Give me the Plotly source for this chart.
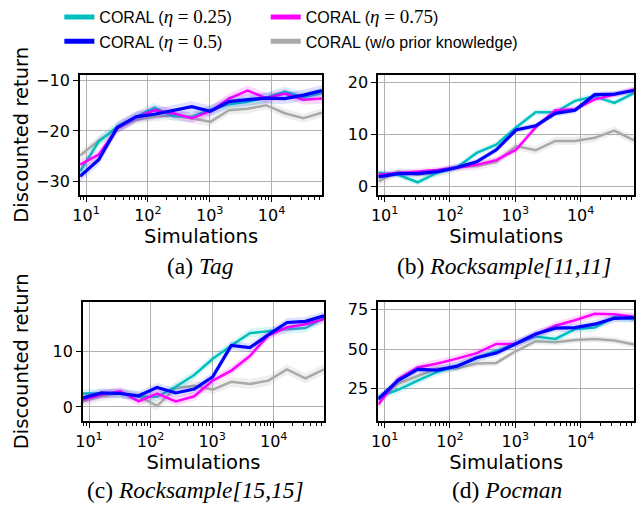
import plotly.graph_objects as go

# ---------------- data ----------------
sims = [8, 16, 32, 64, 128, 256, 512, 1024, 2048, 4096, 8192, 16384, 32768, 65536]

MATH = "font-family:Liberation Serif;font-size:19px"
series_names = [
    f"CORAL (<span style='{MATH}'><i>η</i> = 0.25</span>)",
    f"CORAL (<span style='{MATH}'><i>η</i> = 0.75</span>)",
    f"CORAL (<span style='{MATH}'><i>η</i> = 0.5</span>)",
    "CORAL (w/o prior knowledge)",
]

# Tag
tag_025 = [-28.0, -22.1, -19.2, -17.2, -15.4, -17.1, -17.2, -15.8, -14.7, -14.2, -13.4, -12.2, -13.3, -12.5]
tag_05  = [-29.0, -25.7, -19.3, -17.2, -16.7, -16.0, -15.2, -16.1, -14.2, -13.8, -13.5, -13.6, -12.9, -12.0]
tag_075 = [-26.7, -24.7, -19.5, -17.3, -15.9, -16.5, -17.5, -16.1, -13.6, -12.0, -13.5, -12.6, -13.8, -13.6]
tag_np  = [-24.9, -21.9, -19.5, -17.8, -17.2, -16.9, -17.5, -18.2, -15.9, -15.6, -14.9, -16.5, -17.5, -16.4]

# Rocksample[11,11]
rs11_025 = [2.6, 2.2, 0.75, 2.6, 3.6, 6.4, 8.0, 11.3, 14.2, 14.2, 16.4, 17.3, 16.0, 17.9]
rs11_05  = [1.8, 2.4, 2.4, 2.8, 3.6, 4.7, 7.0, 10.8, 11.6, 14.0, 14.6, 17.6, 17.7, 18.4]
rs11_075 = [2.2, 2.5, 2.8, 3.1, 3.6, 4.1, 5.0, 7.0, 11.3, 14.6, 14.8, 16.7, 17.6, 18.6]
rs11_np  = [0.9, 2.8, 2.2, 2.6, 3.6, 3.9, 4.7, 7.7, 6.9, 8.7, 8.7, 9.3, 10.7, 8.8]

# Rocksample[15,15]
rs15_025 = [2.4, 2.4, 2.4, 1.8, 1.8, 3.6, 5.7, 8.6, 11.0, 13.2, 13.6, 13.9, 14.1, 15.9]
rs15_05  = [1.6, 2.5, 2.4, 2.0, 3.5, 2.5, 3.2, 5.4, 11.0, 10.6, 12.9, 15.1, 15.3, 16.3]
rs15_075 = [1.3, 2.2, 2.8, 1.0, 2.4, 1.0, 1.9, 4.7, 6.5, 9.1, 12.8, 14.2, 14.8, 15.7]
rs15_np  = [1.0, 1.9, 2.5, 1.9, 0.2, 3.4, 3.8, 3.1, 4.5, 4.1, 4.7, 6.7, 5.1, 6.7]

# Pocman
poc_025 = [19.8, 24.4, 30.2, 35.7, 39.3, 44.6, 48.8, 53.3, 57.9, 56.4, 62.6, 63.6, 70.2, 68.8]
poc_05  = [18.6, 30.2, 37.2, 36.8, 39.3, 44.6, 47.5, 53.7, 59.5, 63.2, 63.6, 65.7, 69.4, 69.8]
poc_075 = [15.1, 31.0, 38.4, 40.9, 44.0, 47.5, 53.3, 53.3, 59.1, 64.7, 68.2, 72.3, 71.9, 70.2]
poc_np  = [18.2, 28.1, 33.1, 37.8, 37.8, 40.9, 41.3, 48.8, 55.0, 54.3, 55.8, 56.4, 55.4, 52.9]

# shaded spread (half-width) per panel, per series [0.25, 0.75, 0.5, w/o]
tag_err  = [1.0, 1.0, 1.1, 0.9]
rs11_err = [0.6, 0.6, 0.6, 0.8]
rs15_err = [0.8, 0.8, 0.8, 0.9]
poc_err  = [2.5, 2.5, 2.5, 2.0]

yticks_tag = [-30, -20, -10]
yticks_rs11 = [0, 10, 20]
yticks_rs15 = [0, 10]
yticks_poc = [25, 50, 75]
xticks = [10, 100, 1000, 10000]
xticktext = ["10<sup>1</sup>", "10<sup>2</sup>", "10<sup>3</sup>", "10<sup>4</sup>"]

captions = ["(a) <i>Tag</i>", "(b) <i>Rocksample[11,11]</i>", "(c) <i>Rocksample[15,15]</i>", "(d) <i>Pocman</i>"]

# ---------------- style ----------------
W, H = 636, 510
colors = ["#00bfbf", "#ff00ff", "#0000ff", "#a9a9a9"]
fills = ["rgba(0,191,191,0.15)", "rgba(255,0,255,0.15)", "rgba(0,0,255,0.12)", "rgba(169,169,169,0.18)"]
lw = [2.5, 2.5, 3.2, 2.5]
draw_order = [3, 0, 1, 2]

def px(x0, x1):
    return [x0 / W, x1 / W]

def py(y0, y1):  # y0 top, y1 bottom in px
    return [1 - y1 / H, 1 - y0 / H]

panels = [
    dict(data=[tag_025, tag_075, tag_05, tag_np], err=tag_err, yt=yticks_tag, yr=[-32.6, -9.0],
         dx=px(73, 318), dy=py(69.5, 190.5), ylab=True, cap=(195, 263)),
    dict(data=[rs11_025, rs11_075, rs11_05, rs11_np], err=rs11_err, yt=yticks_rs11, yr=[-1.6, 21.3],
         dx=px(375, 634), dy=py(69.5, 190.5), ylab=False, cap=(503, 263)),
    dict(data=[rs15_025, rs15_075, rs15_05, rs15_np], err=rs15_err, yt=yticks_rs15, yr=[-2.5, 18.8],
         dx=px(76, 320), dy=py(299.5, 420.5), ylab=True, cap=(190, 491)),
    dict(data=[poc_025, poc_075, poc_05, poc_np], err=poc_err, yt=yticks_poc, yr=[4.8, 79.8],
         dx=px(375, 634), dy=py(299.5, 420.5), ylab=False, cap=(505, 491)),
]

FONT = "DejaVu Sans"
fig = go.Figure()
annotations = []

for i, p in enumerate(panels):
    k = "" if i == 0 else str(i + 1)
    xa, ya = "x" + k, "y" + k
    for s in draw_order:
        ys = p["data"][s]
        e = p["err"][s]
        lo = [v - e for v in ys]
        hi = [v + e for v in ys]
        fig.add_trace(go.Scatter(x=sims + sims[::-1], y=hi + lo[::-1], fill="toself",
                                 fillcolor=fills[s], line=dict(width=0), mode="lines",
                                 hoverinfo="skip", showlegend=False, xaxis=xa, yaxis=ya))
        fig.add_trace(go.Scatter(x=sims, y=ys, mode="lines", line=dict(color=colors[s], width=lw[s]),
                                 showlegend=False, xaxis=xa, yaxis=ya))
    axis_common = dict(showline=True, linecolor="black", linewidth=2, mirror=True,
                       ticks="outside", tickcolor="black", ticklen=5, tickwidth=1.3,
                       showgrid=True, gridcolor="#b0b0b0", gridwidth=1, zeroline=False,
                       tickfont=dict(family=FONT, size=16, color="black"))
    fig.layout["xaxis" + k] = dict(axis_common, type="log", domain=p["dx"],
                                   range=[0.90309, 4.81648], anchor=ya,
                                   tickvals=xticks, ticktext=xticktext,
                                   minor=dict(ticks="outside", ticklen=3, tickcolor="black",
                                              tickwidth=1, showgrid=False, dtick="D1"),
                                   title=dict(text="Simulations", standoff=2,
                                              font=dict(family=FONT, size=19.5, color="black")))
    fig.layout["yaxis" + k] = dict(axis_common, domain=p["dy"], range=p["yr"], anchor=xa,
                                   tickvals=p["yt"],
                                   ticktext=[str(v).replace("-", "−") for v in p["yt"]])
    if p["ylab"]:
        annotations.append(dict(text="Discounted return", x=14 / W, y=(p["dy"][0] + p["dy"][1]) / 2,
                                xref="paper", yref="paper", textangle=-90, showarrow=False,
                                xanchor="center", yanchor="middle",
                                font=dict(family=FONT, size=19.5, color="black")))
    cx, cy = p["cap"]
    annotations.append(dict(text=captions[i], x=cx / W, y=1 - cy / H, xref="paper", yref="paper",
                            showarrow=False, xanchor="center", yanchor="middle",
                            font=dict(family="Liberation Serif", size=23.5, color="black")))

# legend entries (thicker handles, as in the reference), one small legend per entry
legend_ids = ["legend", "legend2", "legend3", "legend4"]
legend_pos = [(52, 10), (261, 10), (52, 35), (261, 35)]   # (left px, centre y px)
legend_series = [0, 1, 2, 3]
for j, s in enumerate(legend_series):
    fig.add_trace(go.Scatter(x=[None], y=[None], mode="lines", name=series_names[s],
                             line=dict(color=colors[s], width=5), legend=legend_ids[j],
                             showlegend=True))

leg_layout = {}
for j, lid in enumerate(legend_ids):
    lx, ly = legend_pos[j]
    leg_layout[lid] = dict(orientation="v", bgcolor="rgba(0,0,0,0)", borderwidth=0,
                           font=dict(family="Liberation Sans", size=16, color="black"),
                           x=lx / W, xanchor="left", y=1 - ly / H, yanchor="middle",
                           itemwidth=30)
fig.update_layout(**leg_layout)

fig.update_layout(width=W, height=H, margin=dict(l=0, r=0, t=0, b=0),
                  paper_bgcolor="white", plot_bgcolor="white",
                  annotations=annotations, font=dict(family=FONT, color="black"))

fig.write_html("out.html", config={"displayModeBar": False},
               post_script="document.body.style.margin='0';document.body.style.padding='0';")
